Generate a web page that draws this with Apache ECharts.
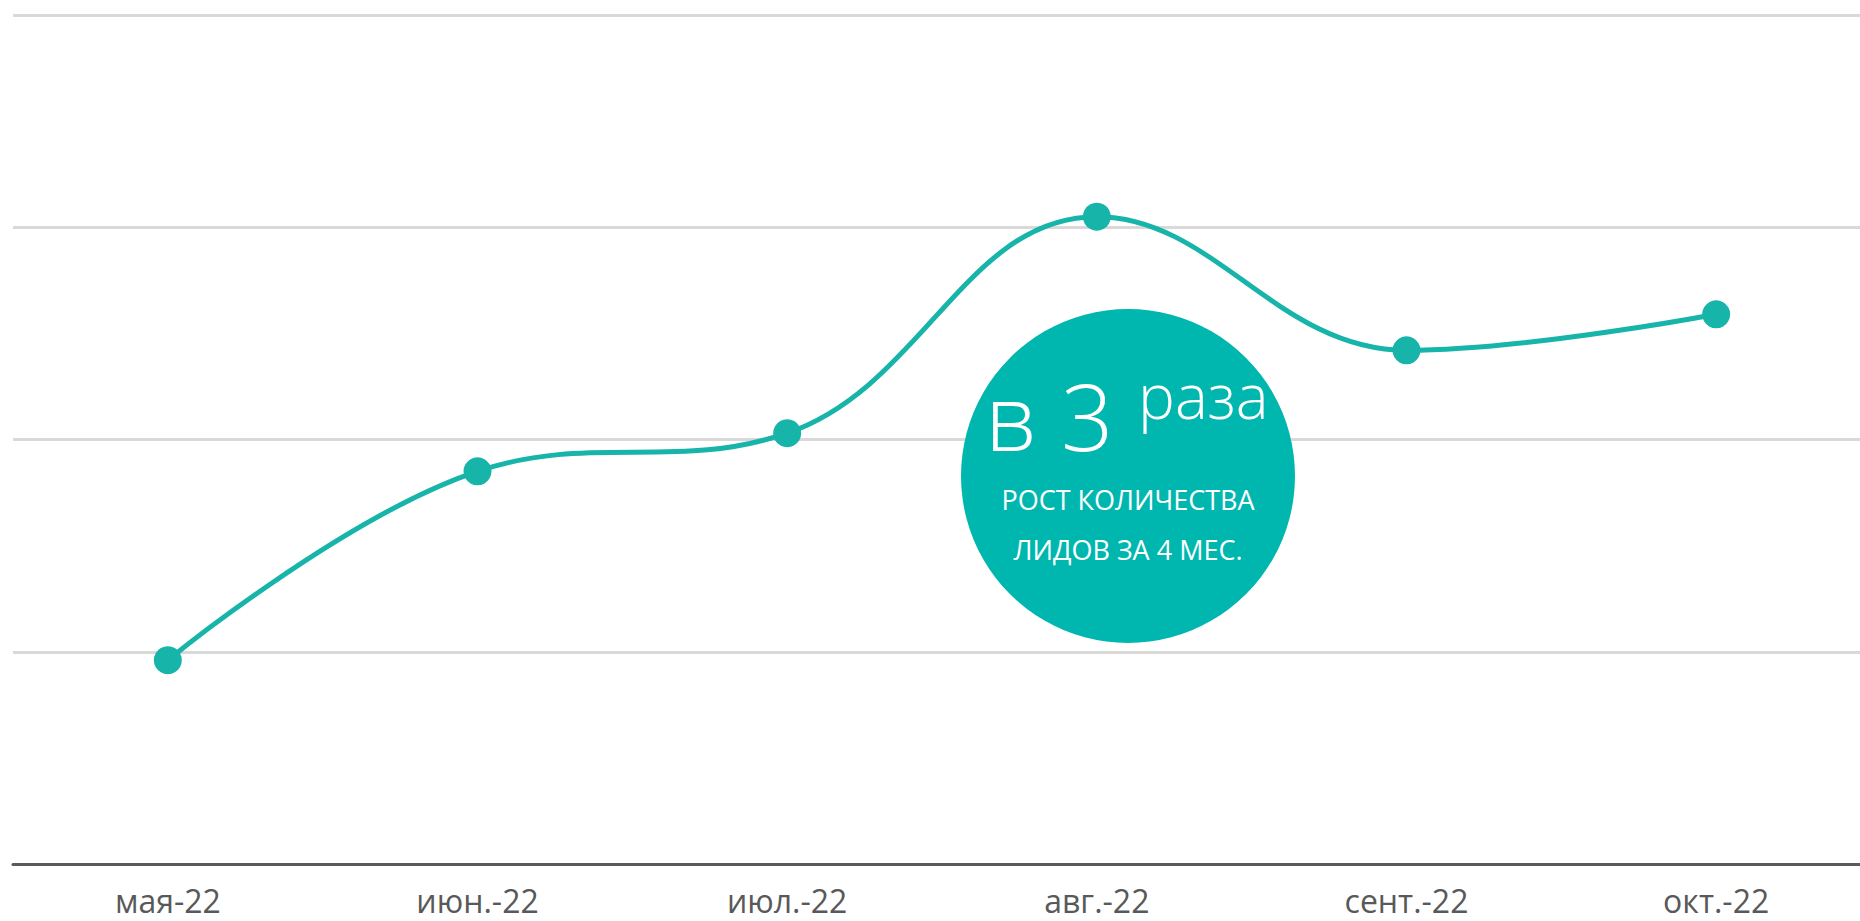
<!DOCTYPE html>
<html lang="ru">

<head>
    <meta charset="UTF-8">
    <meta name="viewport" content="width=device-width, initial-scale=1.0">
    <title>Рост количества лидов</title>
    <script src="https://cdn.jsdelivr.net/npm/echarts@6/dist/echarts.min.js"></script>
    <style>
        html, body {
            margin: 0;
            padding: 0;
            background: #fff;
        }

        #chart {
            width: 1860px;
            height: 921px;
        }
    </style>
</head>

<body>
    <div id="chart"></div>

    <script>
        // data
        const months = ['мая-22', 'июн.-22', 'июл.-22', 'авг.-22', 'сент.-22', 'окт.-22'];
        const leads = [96, 185, 203, 305, 242, 259];
        const yTicks = [0, 100, 200, 300, 400];

        const teal = '#17b4aa';

        const chart = echarts.init(document.getElementById('chart'), null, { renderer: 'svg' });

        const option = {
            animation: false,
            grid: {
                left: 13,
                width: 1858,
                top: 15,
                bottom: 57,
                containLabel: false,
                outerBoundsMode: 'none'
            },
            xAxis: {
                type: 'category',
                data: months,
                axisTick: { show: false },
                axisLine: {
                    lineStyle: { color: '#5a5a5a', width: 3 }
                },
                axisLabel: {
                    color: '#595959',
                    fontFamily: 'Open Sans',
                    fontSize: 32,
                    lineHeight: 32,
                    margin: 20
                }
            },
            yAxis: {
                type: 'value',
                min: yTicks[0],
                max: yTicks[yTicks.length - 1],
                interval: 100,
                axisLabel: { show: false },
                axisLine: { show: false },
                axisTick: { show: false },
                splitLine: {
                    lineStyle: { color: '#d9d9d9', width: 3 }
                }
            },
            series: [
                {
                    type: 'line',
                    data: leads,
                    smooth: 0.4,
                    symbol: 'circle',
                    symbolSize: 28,
                    lineStyle: { color: teal, width: 5 },
                    itemStyle: { color: teal }
                }
            ],
            graphic: [
                {
                    type: 'circle',
                    z: 100,
                    shape: { cx: 1128, cy: 476, r: 167 },
                    style: { fill: '#00b7af' }
                },
                {
                    type: 'text',
                    z: 101,
                    x: 985,
                    y: 415,
                    style: {
                        text: 'в 3',
                        fill: '#fff',
                        font: '300 92px "Open Sans"',
                        align: 'left',
                        verticalAlign: 'middle'
                    }
                },
                {
                    type: 'text',
                    z: 101,
                    x: 1138,
                    y: 395,
                    style: {
                        text: 'раза',
                        fill: '#fff',
                        font: '300 62px "Open Sans"',
                        align: 'left',
                        verticalAlign: 'middle'
                    }
                },
                {
                    type: 'text',
                    z: 101,
                    x: 1128,
                    y: 499,
                    style: {
                        text: 'РОСТ КОЛИЧЕСТВА',
                        fill: '#fff',
                        font: '400 27px "Open Sans"',
                        align: 'center',
                        verticalAlign: 'middle'
                    }
                },
                {
                    type: 'text',
                    z: 101,
                    x: 1128,
                    y: 549,
                    style: {
                        text: 'ЛИДОВ ЗА 4 МЕС.',
                        fill: '#fff',
                        font: '400 27px "Open Sans"',
                        align: 'center',
                        verticalAlign: 'middle'
                    }
                }
            ]
        };

        chart.setOption(option);
    </script>
</body>
</html>
